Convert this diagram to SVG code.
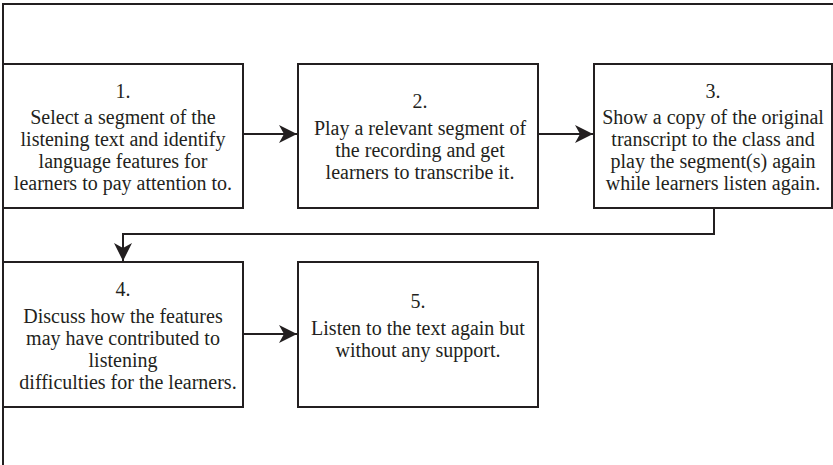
<svg xmlns="http://www.w3.org/2000/svg" width="833" height="465" viewBox="0 0 833 465">
<style>
.box{fill:#fff;stroke:#231f20;stroke-width:2}
.t{font-family:"Liberation Serif","Times New Roman",serif;font-size:20px;fill:#231f20;text-anchor:middle}
.c{fill:none;stroke:#231f20;stroke-width:2}
</style>
<defs>
<marker id="ah" markerUnits="userSpaceOnUse" markerWidth="20" markerHeight="18" refX="18" refY="9" orient="auto">
<path d="M0,0 L18,9 L0,18 L5,9 Z" fill="#231f20"/>
</marker>
</defs>
<rect width="833" height="465" fill="#fff"/>
<g id="frame">
<path class="c" d="M3,465 V4 H833"/>
</g>
<g id="connectors">
<line class="c" x1="243" y1="134" x2="297" y2="134" marker-end="url(#ah)"/>
<line class="c" x1="538" y1="134" x2="593" y2="134" marker-end="url(#ah)"/>
<path class="c" d="M714,208 V234 H123 V261" marker-end="url(#ah)"/>
<line class="c" x1="243" y1="334" x2="297" y2="334" marker-end="url(#ah)"/>
</g>
<g id="n1">
<rect class="box" x="3" y="64" width="240" height="144"/>
<text class="t" x="123" y="98">1.</text>
<text class="t" x="123" y="124">Select a segment of the</text>
<text class="t" x="123" y="146">listening text and identify</text>
<text class="t" x="123" y="168">language features for</text>
<text class="t" x="123" y="190">learners to pay attention to.</text>
</g>
<g id="n2">
<rect class="box" x="298" y="64" width="240" height="144"/>
<text class="t" x="420" y="108">2.</text>
<text class="t" x="420" y="135">Play a relevant segment of</text>
<text class="t" x="420" y="157">the recording and get</text>
<text class="t" x="420" y="179">learners to transcribe it.</text>
</g>
<g id="n3">
<rect class="box" x="594" y="64" width="238" height="144"/>
<text class="t" x="713" y="98">3.</text>
<text class="t" x="713" y="124">Show a copy of the original</text>
<text class="t" x="713" y="146">transcript to the class and</text>
<text class="t" x="713" y="168">play the segment(s) again</text>
<text class="t" x="713" y="190">while learners listen again.</text>
</g>
<g id="n4">
<rect class="box" x="3" y="262" width="240" height="145"/>
<text class="t" x="123" y="296">4.</text>
<text class="t" x="123" y="323">Discuss how the features</text>
<text class="t" x="123" y="345">may have contributed to</text>
<text class="t" x="123" y="367">listening</text>
<text class="t" x="128" y="389">difficulties for the learners.</text>
</g>
<g id="n5">
<rect class="box" x="298" y="262" width="240" height="145"/>
<text class="t" x="418" y="308">5.</text>
<text class="t" x="418" y="335">Listen to the text again but</text>
<text class="t" x="418" y="357">without any support.</text>
</g>
</svg>
